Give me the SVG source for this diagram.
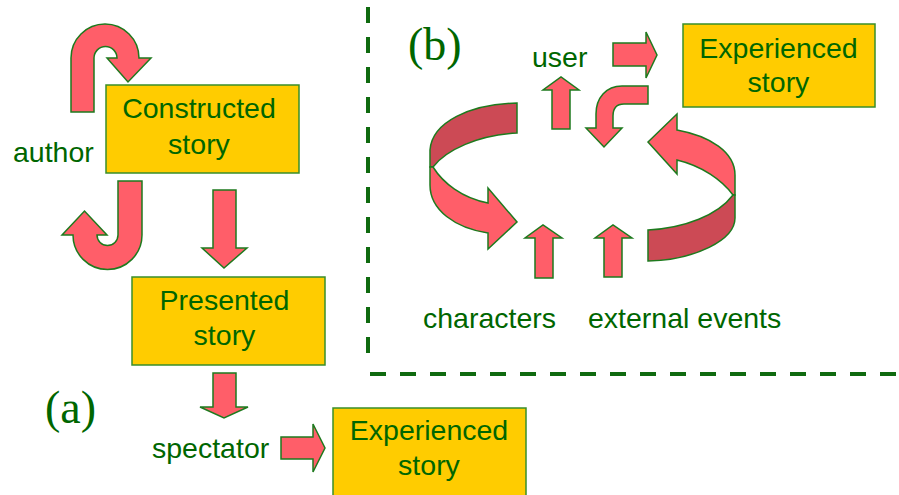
<svg xmlns="http://www.w3.org/2000/svg" width="899" height="495" viewBox="0 0 899 495">
<style>
.box{fill:#FFCC00;stroke:#3A8E2A;stroke-width:1.5}
.t{font-family:"Liberation Sans",Arial,sans-serif;font-size:28.5px;fill:#006600}
.lab{font-family:"Liberation Serif","Times New Roman",serif;font-size:46px;fill:#006600}
.ar{fill:#FF5E69;stroke:#1E7A1E;stroke-width:1.5;stroke-linejoin:miter}
.dk{fill:#CC4A55;stroke:#1E7A1E;stroke-width:1.5}
.dash{stroke:#0F6A0F;stroke-width:4;stroke-dasharray:16 14;fill:none}
</style>
<rect width="899" height="495" fill="#ffffff"/>
<g id="divider">
<line class="dash" x1="368" y1="7" x2="368" y2="362"/>
<line class="dash" x1="370" y1="374" x2="899" y2="374"/>
</g>
<g id="labels">
<text class="lab" x="45" y="423">(a)</text>
<text class="lab" x="408" y="60">(b)</text>
</g>
<g id="constructed">
<rect class="box" x="106" y="85" width="193" height="88"/>
<text class="t" x="199" y="118" text-anchor="middle">Constructed</text>
<text class="t" x="199" y="154" text-anchor="middle">story</text>
</g>
<g id="presented">
<rect class="box" x="132" y="277" width="193" height="88"/>
<text class="t" x="224.5" y="310" text-anchor="middle">Presented</text>
<text class="t" x="224.5" y="345" text-anchor="middle">story</text>
</g>
<g id="experienced-a">
<rect class="box" x="333" y="408" width="193" height="90"/>
<text class="t" x="429" y="440" text-anchor="middle">Experienced</text>
<text class="t" x="429" y="475" text-anchor="middle">story</text>
</g>
<g id="experienced-b">
<rect class="box" x="683" y="24" width="192" height="83"/>
<text class="t" x="778.5" y="58" text-anchor="middle">Experienced</text>
<text class="t" x="778.5" y="92" text-anchor="middle">story</text>
</g>
<g id="author"><text class="t" x="13" y="162">author</text></g>
<g id="spectator"><text class="t" x="152" y="458">spectator</text></g>
<g id="user"><text class="t" x="532" y="67">user</text></g>
<g id="characters"><text class="t" x="423" y="328">characters</text></g>
<g id="external-events"><text class="t" x="588" y="328">external events</text></g>
<g id="connectors">
<path class="ar" d="M71,112 L71,58 A34,34 0 0 1 139,58 L151,58 L128,82 L107,58 L117,58 A11.5,11.5 0 0 0 94,58 L94,112 Z"/>
<path class="ar" d="M118,181 L142,181 L142,235 A34.5,34.5 0 0 1 73,235 L62,235 L84.5,211 L107,235 L97,235 A10.5,10.5 0 0 0 118,235 Z"/>
<path class="ar" d="M213,190 L236,190 L236,248 L247,248 L224,268 L202,248 L213,248 Z"/>
<path class="ar" d="M213,373 L236,373 L236,407 L248,407 L224,418 L200,407 L213,407 Z"/>
<path class="ar" d="M281,437 L313,437 L313,424 L325,448 L313,472 L313,459 L281,459 Z"/>
<path class="ar" d="M613,43 L646,43 L646,32 L657,55 L646,78 L646,66 L613,66 Z"/>
<path class="ar" d="M552,129 L552,90 L543,90 L561,77 L579,90 L570,90 L570,129 Z"/>
<path class="ar" d="M648,86 L622,86 C606,86 596,98 596,114 L596,128 L586,128 L604,147 L622,128 L613,128 L613,116 C613,109 616,104 624,104 L648,104 Z"/>
<path class="ar" d="M535,278 L535,238 L525,238 L543,225 L562,238 L553,238 L553,278 Z"/>
<path class="ar" d="M604,277 L604,238 L595,238 L613,225 L632,238 L622,238 L622,277 Z"/>
<path class="dk" d="M517,103 L517,133 C478,135 446,150 433,167 L430,167 L430,150 C432,122 470,104 517,103 Z"/>
<path class="ar" d="M433,167 C443,183 462,198 488,203 L488,188 L517,222 L488,249 L488,233 C455,228 430,210 430,185 L430,167 Z"/>
<path class="ar" d="M733,195 C722,180 702,166 677,160 L677,174 L648,142 L677,114 L677,130 C710,136 735,152 735,175 L735,195 Z"/>
<path class="dk" d="M648,230 C685,228 718,215 733,195 L735,195 L735,218 C735,240 695,260 648,261 Z"/>
</g>
</svg>
